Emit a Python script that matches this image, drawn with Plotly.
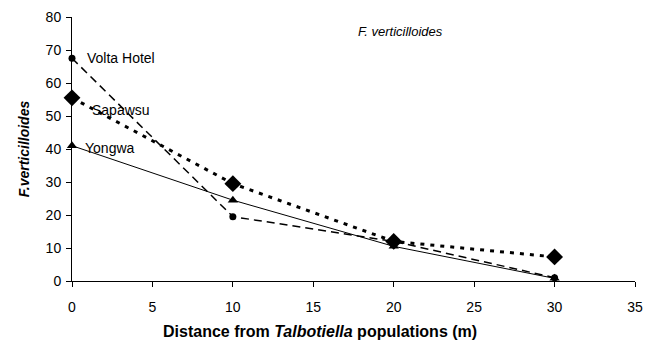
import plotly.graph_objects as go

distance = [0, 10, 20, 30]
volta_hotel = [67.5, 19.5, 12.0, 1.0]
sapawsu = [55.5, 29.5, 12.0, 7.3]
yongwa = [41.0, 24.5, 10.5, 0.8]

x_ticks = [0, 5, 10, 15, 20, 25, 30, 35]
y_ticks = [0, 10, 20, 30, 40, 50, 60, 70, 80]

FONT = "Liberation Sans, Arial, sans-serif"

fig = go.Figure()
fig.add_trace(go.Scatter(x=distance, y=volta_hotel, mode="lines+markers", name="Volta Hotel",
                         line=dict(color="black", width=1.5, dash="8px,5px"),
                         marker=dict(symbol="circle", size=7, color="black"), cliponaxis=False))
fig.add_trace(go.Scatter(x=distance, y=sapawsu, mode="lines+markers", name="Sapawsu",
                         line=dict(color="black", width=3, dash="4px,6px"),
                         marker=dict(symbol="diamond", size=13, color="black"), cliponaxis=False))
fig.add_trace(go.Scatter(x=distance, y=yongwa, mode="lines+markers", name="Yongwa",
                         line=dict(color="black", width=1),
                         marker=dict(symbol="triangle-up", size=9, color="black"), cliponaxis=False))

labels = [("Volta Hotel", 0.8, 67.6), ("Sapawsu", 1.1, 51.8), ("Yongwa", 0.7, 40.3)]
for txt, xx, yy in labels:
    fig.add_annotation(x=xx, y=yy, text=txt, showarrow=False, xanchor="left", yanchor="middle",
                       font=dict(family=FONT, size=14, color="black"))

fig.add_annotation(x=20.4, y=75.5, text="<i>F. verticilloides</i>", showarrow=False,
                   xanchor="center", yanchor="middle", font=dict(family=FONT, size=13, color="black"))

# x-axis title (offset to the left as in the reference)
fig.add_annotation(xref="paper", yref="paper", x=0.4405, y=-0.193,
                   text="<b>Distance from <i>Talbotiella</i> populations (m)</b>",
                   showarrow=False, xanchor="center", yanchor="middle",
                   font=dict(family=FONT, size=16, color="black"))

fig.update_layout(
    width=656, height=344, showlegend=False,
    paper_bgcolor="white", plot_bgcolor="white",
    margin=dict(l=64, r=29, t=9, b=71, autoexpand=False),
    font=dict(family=FONT, size=14, color="black"),
    xaxis=dict(range=[0, 35], tickvals=x_ticks, showgrid=False, zeroline=False, automargin=False,
               showline=True, linecolor="black", linewidth=1, ticks="outside", ticklen=5,
               tickcolor="black", tickfont=dict(size=14), ticklabelstandoff=8),
    yaxis=dict(range=[0, 80], tickvals=y_ticks, showgrid=False, zeroline=False, automargin=False,
               showline=True, linecolor="black", linewidth=1, ticks="outside", ticklen=5,
               tickcolor="black", tickfont=dict(size=14), ticklabelstandoff=2,
               title=dict(text="<b><i>F.verticilloides</i></b>", font=dict(size=14), standoff=12)),
)

fig.write_html("out.html")
